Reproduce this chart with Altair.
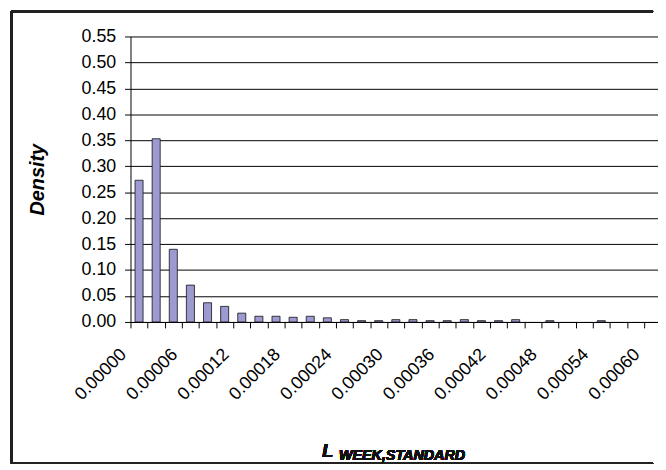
import json
import altair as alt
import pandas as pd

bins = ["0.00000", "0.00002", "0.00004", "0.00006", "0.00008", "0.00010",
        "0.00012", "0.00014", "0.00016", "0.00018", "0.00020", "0.00022",
        "0.00024", "0.00026", "0.00028", "0.00030", "0.00032", "0.00034",
        "0.00036", "0.00038", "0.00040", "0.00042", "0.00044", "0.00046",
        "0.00048", "0.00050", "0.00052", "0.00054", "0.00056", "0.00058",
        "0.00060"]
density = [0.273, 0.353, 0.140, 0.071, 0.037, 0.030, 0.017, 0.011, 0.011,
           0.009, 0.011, 0.008, 0.0045, 0.0025, 0.0025, 0.0045, 0.0045, 0.0025,
           0.0025, 0.0045, 0.0025, 0.0025, 0.0045, 0.0, 0.0025, 0.0, 0.0,
           0.0025, 0.0, 0.0, 0.0]
shown_labels = ["0.00000", "0.00006", "0.00012", "0.00018", "0.00024",
                "0.00030", "0.00036", "0.00042", "0.00048", "0.00054",
                "0.00060"]
y_ticks = [0.0, 0.05, 0.10, 0.15, 0.20, 0.25, 0.30, 0.35, 0.40, 0.45, 0.50, 0.55]

x_title_main = "L"
x_title_sub = "WEEK,STANDARD"
y_title = "Density"

df = pd.DataFrame({"bin": bins, "density": density})

FONT = "Liberation Sans"
W, H = 534, 289
PL, PT, PB = 124, 26, 145
STEP = 17.33

label_expr = ("indexof(" + json.dumps(shown_labels) +
              ", datum.value) >= 0 ? datum.value : ''")

bars = alt.Chart(df).transform_filter(alt.datum.density > 0).mark_bar(
    width=alt.RelativeBandSize(0.47), fill="#9C9AD0",
    stroke="#111111", strokeWidth=0.8
).encode(
    x=alt.X("bin:N", sort=bins,
            scale=alt.Scale(domain=bins, range=[0, STEP * len(bins)],
                            paddingInner=0, paddingOuter=0),
            axis=alt.Axis(title=None, labelExpr=label_expr, labelAngle=315,
                          labelAlign="right", labelBaseline="middle",
                          labelFont=FONT, labelFontSize=18, labelColor="black",
                          labelOffset=-16, labelPadding=24, tickBand="extent",
                          tickSize=6, tickColor="black", domainColor="black",
                          labelOverlap=False, grid=False)),
    y=alt.Y("density:Q",
            scale=alt.Scale(domain=[0, 0.55], nice=False),
            axis=alt.Axis(values=y_ticks, format=".2f", title=y_title,
                          labelFont=FONT, labelFontSize=18, labelColor="black",
                          labelPadding=9, tickSize=6, tickColor="black",
                          domainColor="black", gridColor="black", gridWidth=1,
                          titleFont=FONT, titleFontSize=20, titleFontStyle="italic",
                          titleFontWeight="bold", titleColor="black",
                          titleAngle=270, titleX=-94, titleY=H / 2,
                          titleAlign="center", titleBaseline="middle"))
)

frame_style = dict(color="#222222", strokeWidth=1.5)
BOTTOM = 466 - 8
RIGHT = W - 5
left_edge = alt.Chart(df).mark_rule(**frame_style).encode(
    x=alt.value(11.5 - 8 - PL), y=alt.value(0.75 - PT), y2=alt.value(BOTTOM - PT))
top_edge = alt.Chart(df).mark_rule(**frame_style).encode(
    x=alt.value(11.5 - 8 - PL), x2=alt.value(RIGHT), y=alt.value(0.75 - PT))
bottom_edge = alt.Chart(df).mark_rule(**frame_style).encode(
    x=alt.value(11.5 - 8 - PL), x2=alt.value(RIGHT), y=alt.value(BOTTOM - PT))

t_main = alt.Chart(df).mark_text(
    text=x_title_main, font=FONT, fontSize=18, fontStyle="italic",
    fontWeight="bold", align="left", baseline="alphabetic", color="#111111"
).encode(x=alt.value(326 - 8 - PL), y=alt.value(460 - 8 - PT))

t_sub = alt.Chart(df).mark_text(
    text=x_title_sub, font=FONT, fontSize=14.5, fontStyle="italic",
    fontWeight="bold", align="left", baseline="alphabetic", color="#111111"
).encode(x=alt.value(343 - 8 - PL), y=alt.value(463 - 8 - PT))

chart = alt.layer(bars, left_edge, top_edge, bottom_edge, t_main, t_sub).properties(
    width=W, height=H,
    autosize=alt.AutoSizeParams(type="none"),
    padding={"left": PL, "top": PT, "right": 0, "bottom": PB},
    background="white"
).configure_view(stroke=None)

chart.save("out.html", embed_options={"renderer": "svg", "actions": False})
